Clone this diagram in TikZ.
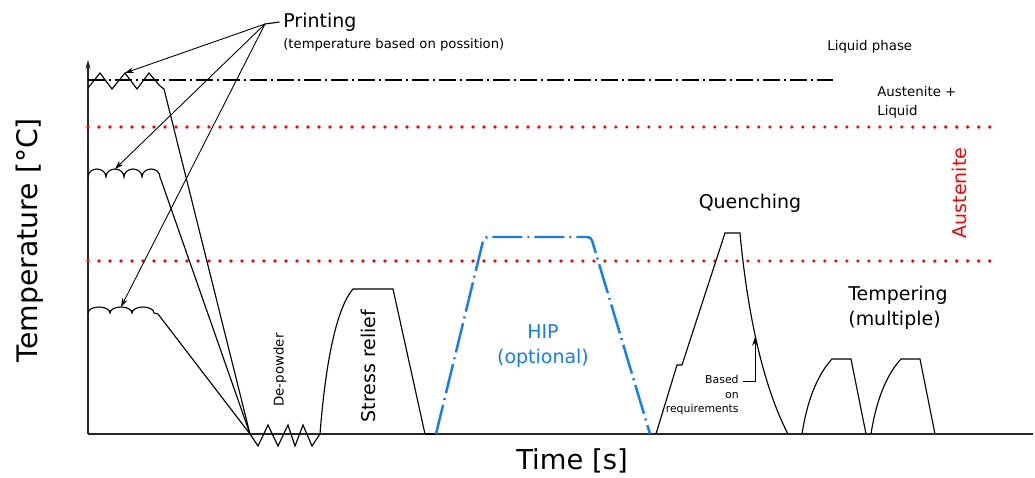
\documentclass[tikz,border=0pt]{standalone}
\usepackage{fontspec}
\setmainfont{DejaVu Sans}
\usepackage{xcolor}
\usetikzlibrary{arrows.meta}

\definecolor{phasered}{RGB}{255,0,0}
\definecolor{hipblue}{RGB}{20,125,245}

\tikzset{
  curve/.style={line width=0.65pt},
  axis/.style={line width=1.1pt, black!85},
  phaseline/.style={phasered, line width=2.1pt, line cap=round, dash pattern=on 0pt off 0.22cm},
  liquidus/.style={line width=1.2pt, dash pattern=on 0.34cm off 0.08cm on 0.04cm off 0.08cm},
  hipline/.style={hipblue, line width=1.4pt, dash pattern=on 0.6cm off 0.1cm on 0.04cm off 0.1cm},
  pointer/.style={-{Stealth[length=5pt,width=3.2pt]}, line width=0.5pt},
  biglabel/.style={font=\fontsize{10.8}{14.5}\selectfont, inner sep=0pt},
  smalllabel/.style={font=\fontsize{7.6}{10.8}\selectfont, inner sep=0pt},
  tinylabel/.style={font=\fontsize{6.2}{8.5}\selectfont, inner sep=0pt},
}

\begin{document}
\begin{tikzpicture}[x=0.02cm, y=0.02cm, >=Stealth]
\useasboundingbox (0,0) rectangle (1035,-477);

% axes
\draw[axis] (88,-434) -- (1033,-434);
\draw[axis, -{Stealth[length=5pt,width=3pt]}] (88,-434) -- (88,-60);
\node[font=\fontsize{16.1}{18}\selectfont, rotate=90, inner sep=0pt] (ylab) at (30,-240) {Temperature [°C]};
\node[font=\fontsize{15.6}{18}\selectfont, inner sep=0pt] (xlab) at (572,-461) {Time [s]};

% phase limits
\draw[liquidus] (88,-80) -- (833,-80);
\draw[phaseline] (88,-127) -- (995,-127);
\draw[phaseline] (88,-261) -- (995,-261);
\node[smalllabel, anchor=west] (liq) at (827,-47) {Liquid phase};
\node[smalllabel, anchor=west, align=left] (auliq) at (877,-102) {Austenite +\\Liquid};
\node[biglabel, phasered, rotate=90] (aust) at (959,-193) {Austenite};

% printing, one track per height
\draw[curve] (88,-88) -- (100,-73) -- (112,-89) -- (125,-73) -- (137,-89) -- (149,-73)
  -- (160,-86) -- (164,-89) -- (250,-434);
\draw[curve] (88,-177)
  \foreach \i in {1,...,4} { arc[start angle=180, end angle=0, x radius=9, y radius=8] }
  -- (250,-434);
\draw[curve] (88,-313)
  \foreach \i in {1,2,3} { arc[start angle=180, end angle=0, x radius=11, y radius=6] }
  -- (158,-314) -- (250,-434);
\coordinate (zz) at (125,-73);
\coordinate (sc1) at (115,-169);
\coordinate (sc2) at (121,-307);

\node[biglabel, anchor=west] (printing) at (283,-22) {Printing};
\node[font=\fontsize{7.5}{9}\selectfont, inner sep=0pt, anchor=west] (printsub) at (283,-45)
  {(temperature based on possition)};
\coordinate (prt) at (265,-24);
\draw[curve] (prt) -- ([xshift=-2pt]printing.west);
\foreach \t in {zz,sc1,sc2}
  \draw[pointer] (prt) -- (\t);

% de-powder
\draw[curve] (250,-434) -- (258,-446) -- (268,-425) -- (278,-446) -- (288,-425)
  -- (295,-446) -- (303,-425) -- (312,-446) -- (320,-434);
\node[smalllabel, rotate=90] (depow) at (280,-370) {De-powder};

% stress relief
\draw[curve] (320,-434) .. controls (325,-370) and (335,-310) .. (353,-289) -- (393,-289) -- (425,-434);
\draw[line width=1.6pt] (425,-434) -- (436,-434);
\node[biglabel, rotate=90] (sr) at (368,-366) {Stress relief};

% HIP
\draw[hipline, rounded corners=2pt] (436,-434) -- (484,-237) -- (591,-237) -- (650,-434);
\node[biglabel, hipblue, align=center] (hip) at (543,-346) {HIP\\(optional)};

% quenching
\draw[curve] (656,-434) -- (677,-365) -- (682,-365) -- (725,-233) -- (740,-233)
  .. controls (748,-320) and (765,-390) .. (788,-434);
\node[biglabel] (quench) at (750,-203) {Quenching};
\node[tinylabel, align=right, anchor=east] (req) at (739,-395) {Based\\on\\requirements};
\coordinate (reqfoot) at (743,-381);
\coordinate (reqtip) at (755,-337);
\draw[pointer] (reqfoot) -| (reqtip);

% tempering
\foreach \dx in {0,69}
  \draw[curve, shift={(\dx,0)}] (802,-434) .. controls (808,-395) and (820,-372) .. (832,-359)
    -- (851,-359) -- (866,-434);
\node[biglabel, anchor=west, align=left] (temper) at (848,-308) {Tempering\\(multiple)};
\end{tikzpicture}
\end{document}
